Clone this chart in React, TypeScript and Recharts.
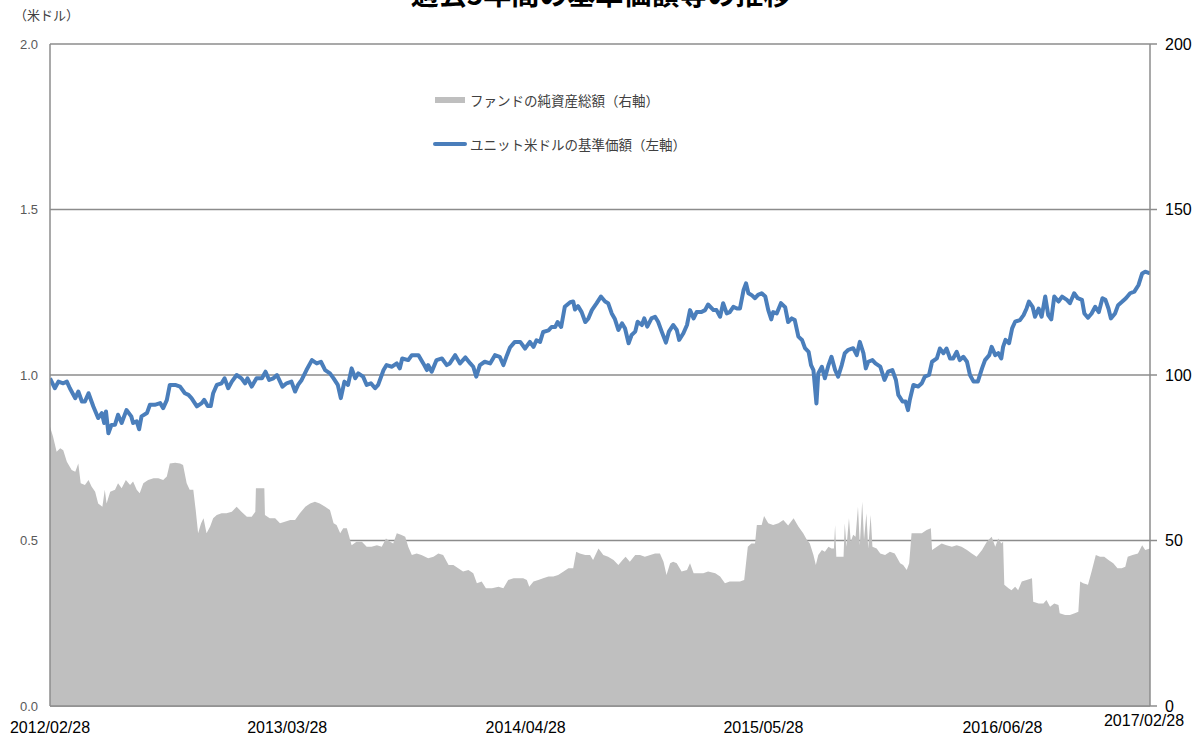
import React from 'react';
import { ComposedChart, Line, Area, XAxis, YAxis, CartesianGrid, Legend } from 'recharts';

const TITLE = '過去5年間の基準価額等の推移';
const UNIT_LABEL = '（米ドル）';
const AREA_NAME = 'ファンドの純資産総額（右軸）';
const LINE_NAME = 'ユニット米ドルの基準価額（左軸）';

// x positions are days since 2012/02/28
const tickDays = [0, 394, 790, 1185, 1582, 1827];
const tickLabels = ['2012/02/28', '2013/03/28', '2014/04/28', '2015/05/28', '2016/06/28', '2017/02/28'];
const leftTicks = [0, 0.5, 1, 1.5, 2];
const rightTicks = [0, 50, 100, 150, 200];

const navDays = [
  0, 8, 14, 22, 28, 33, 42, 47, 53, 58, 64, 72, 80, 86, 90, 93, 97, 102, 108, 113, 119, 127, 135, 138, 144, 148, 152,
  161, 166, 174, 183, 188, 194, 199, 208, 216, 224, 230, 235, 244, 252, 256, 262, 267, 271, 277, 285, 290, 296, 302,
  310, 318, 324, 328, 335, 343, 352, 358, 364, 371, 377, 386, 393, 401, 407, 412, 418, 426, 435, 443, 450, 457, 465,
  471, 478, 483, 489, 495, 501, 507, 512, 520, 526, 533, 540, 545, 554, 559, 568, 576, 581, 585, 595, 601, 612, 620,
  626, 628, 634, 642, 651, 659, 664, 673, 681, 690, 698, 703, 708, 714, 722, 731, 739, 747, 753, 759, 764, 772, 781,
  789, 797, 803, 808, 814, 819, 828, 833, 839, 843, 849, 855, 864, 869, 872, 877, 883, 889, 894, 900, 908, 915, 922,
  927, 933, 938, 944, 950, 955, 961, 966, 972, 976, 983, 987, 992, 999, 1005, 1010, 1016, 1023, 1028, 1035, 1041,
  1045, 1052, 1058, 1063, 1069, 1074, 1082, 1088, 1093, 1102, 1107, 1113, 1118, 1124, 1129, 1135, 1141, 1146, 1152,
  1156, 1160, 1165, 1171, 1176, 1182, 1188, 1193, 1198, 1201, 1207, 1214, 1221, 1226, 1232, 1237, 1243, 1249, 1254,
  1260, 1264, 1268, 1273, 1276, 1282, 1287, 1293, 1298, 1304, 1309, 1315, 1320, 1326, 1334, 1340, 1345, 1351, 1355,
  1359, 1366, 1371, 1379, 1386, 1392, 1399, 1405, 1409, 1416, 1421, 1425, 1428, 1434, 1442, 1448, 1453, 1460, 1465,
  1473, 1478, 1484, 1489, 1495, 1500, 1506, 1511, 1517, 1523, 1528, 1534, 1541, 1548, 1553, 1560, 1564, 1570, 1575,
  1580, 1583, 1587, 1593, 1598, 1603, 1611, 1617, 1622, 1626, 1632, 1636, 1642, 1647, 1653, 1658, 1663, 1668, 1675,
  1681, 1689, 1694, 1701, 1707, 1714, 1718, 1724, 1730, 1736, 1742, 1748, 1753, 1758, 1762, 1769, 1774, 1781, 1787,
  1794, 1801, 1808, 1814, 1819, 1827,
];
const navValues = [
  0.99, 0.96, 0.98, 0.975, 0.98, 0.96, 0.93, 0.95, 0.92, 0.92, 0.945, 0.905, 0.87, 0.885, 0.855, 0.89, 0.824, 0.849,
  0.85, 0.88, 0.855, 0.894, 0.875, 0.855, 0.86, 0.836, 0.875, 0.885, 0.91, 0.91, 0.915, 0.9, 0.924, 0.97, 0.97, 0.965,
  0.945, 0.94, 0.93, 0.905, 0.915, 0.925, 0.906, 0.906, 0.945, 0.97, 0.975, 0.99, 0.96, 0.98, 1.0, 0.99, 0.975, 0.99,
  0.965, 0.99, 0.99, 1.01, 0.985, 0.99, 1.0, 0.965, 0.975, 0.98, 0.95, 0.97, 0.985, 1.015, 1.045, 1.035, 1.04, 1.015,
  1.005, 0.99, 0.97, 0.93, 0.98, 0.97, 1.02, 0.99, 1.005, 0.995, 0.97, 0.975, 0.96, 0.97, 1.015, 1.03, 1.025, 1.035,
  1.02, 1.05, 1.045, 1.06, 1.06, 1.035, 1.015, 1.03, 1.01, 1.045, 1.05, 1.03, 1.035, 1.06, 1.035, 1.053, 1.035, 1.025,
  0.995, 1.03, 1.04, 1.035, 1.06, 1.055, 1.03, 1.06, 1.083, 1.1, 1.1, 1.08, 1.1, 1.085, 1.105, 1.1, 1.13, 1.135, 1.145,
  1.145, 1.16, 1.145, 1.206, 1.22, 1.222, 1.198, 1.208, 1.19, 1.16, 1.17, 1.196, 1.217, 1.237, 1.222, 1.217, 1.186,
  1.17, 1.136, 1.156, 1.141, 1.096, 1.121, 1.131, 1.161, 1.151, 1.171, 1.146, 1.171, 1.176, 1.161, 1.131, 1.098, 1.131,
  1.151, 1.136, 1.106, 1.126, 1.151, 1.196, 1.171, 1.19, 1.19, 1.196, 1.213, 1.196, 1.196, 1.176, 1.217, 1.186, 1.19,
  1.206, 1.201, 1.201, 1.257, 1.277, 1.247, 1.242, 1.232, 1.242, 1.247, 1.237, 1.196, 1.168, 1.19, 1.186, 1.217, 1.205,
  1.16, 1.171, 1.166, 1.116, 1.106, 1.081, 1.07, 1.03, 1.015, 0.914, 1.005, 1.025, 0.99, 1.03, 1.055, 1.015, 0.995,
  1.03, 1.066, 1.076, 1.081, 1.06, 1.1, 1.066, 1.02, 1.04, 1.045, 1.035, 1.025, 0.985, 1.01, 1.015, 0.985, 0.94, 0.92,
  0.92, 0.894, 0.924, 0.97, 0.965, 0.975, 0.995, 1.0, 1.04, 1.05, 1.08, 1.066, 1.08, 1.05, 1.05, 1.07, 1.045, 1.055,
  1.04, 1.0, 0.98, 0.98, 1.02, 1.045, 1.06, 1.085, 1.06, 1.066, 1.05, 1.085, 1.106, 1.096, 1.141, 1.161, 1.166, 1.181,
  1.201, 1.222, 1.206, 1.176, 1.201, 1.176, 1.237, 1.181, 1.168, 1.237, 1.222, 1.237, 1.227, 1.217, 1.247, 1.232,
  1.227, 1.186, 1.173, 1.186, 1.206, 1.19, 1.232, 1.227, 1.201, 1.171, 1.186, 1.211, 1.222, 1.232, 1.247, 1.252,
  1.272, 1.307, 1.312, 1.307,
];

const aumDays = [
  0, 5, 11, 17, 22, 28, 36, 42, 47, 51, 58, 64, 69, 75, 80, 87, 91, 94, 100, 108, 113, 119, 126, 133, 138, 144, 149,
  155, 163, 172, 180, 188, 194, 199, 208, 216, 221, 227, 232, 238, 242, 246, 251, 255, 260, 266, 271, 277, 285, 293,
  302, 310, 318, 327, 335, 341, 342, 356, 357, 365, 374, 382, 390, 399, 407, 415, 424, 432, 440, 448, 457, 465, 471,
  476, 482, 487, 493, 497, 501, 509, 518, 526, 534, 543, 551, 558, 565, 570, 576, 583, 590, 595, 601, 609, 617, 628,
  637, 645, 653, 662, 670, 678, 686, 695, 703, 709, 717, 724, 734, 745, 753, 761, 770, 778, 786, 792, 796, 803, 811,
  819, 828, 836, 844, 853, 861, 869, 874, 880, 889, 897, 902, 911, 919, 927, 936, 944, 951, 956, 963, 972, 980, 988,
  997, 1005, 1013, 1019, 1024, 1030, 1035, 1041, 1049, 1058, 1063, 1069, 1077, 1085, 1093, 1105, 1113, 1121, 1129,
  1138, 1146, 1153, 1159, 1165, 1171, 1174, 1182, 1186, 1193, 1201, 1210, 1218, 1226, 1235, 1243, 1251, 1257, 1262,
  1268, 1272, 1276, 1282, 1287, 1293, 1298, 1302, 1304, 1306, 1315, 1318, 1320, 1323, 1327, 1330, 1334, 1338, 1342,
  1345, 1349, 1352, 1356, 1359, 1363, 1366, 1373, 1379, 1387, 1395, 1403, 1412, 1417, 1423, 1427, 1431, 1440, 1448,
  1456, 1463, 1465, 1473, 1481, 1489, 1498, 1506, 1514, 1523, 1531, 1539, 1548, 1556, 1564, 1570, 1575, 1580, 1583,
  1585, 1592, 1597, 1603, 1608, 1614, 1622, 1631, 1633, 1642, 1650, 1655, 1661, 1668, 1675, 1677, 1686, 1694, 1702,
  1708, 1711, 1716, 1724, 1730, 1737, 1744, 1751, 1758, 1766, 1773, 1780, 1786, 1790, 1798, 1807, 1814, 1819, 1827,
];
const aumValues = [
  84.4, 81.4, 76.8, 77.9, 77.3, 73.8, 71.3, 70.8, 73.3, 67.3, 66.8, 68.3, 66.3, 64.7, 61.2, 60.2, 65.3, 61.2, 64.7,
  65.3, 67.3, 65.8, 68.3, 66.8, 67.8, 65.3, 64.3, 67.3, 68.3, 68.8, 68.8, 68.3, 69.3, 73.3, 73.5, 73.3, 72.8, 67.3,
  65.3, 65.3, 59.2, 52.2, 55.2, 56.7, 52.2, 54.2, 56.7, 57.7, 58.2, 58.2, 58.7, 60.2, 58.7, 57.2, 57.2, 58.7, 65.8,
  65.8, 57.7, 56.7, 56.7, 55.2, 55.7, 56.2, 56.2, 58.2, 60.2, 61.2, 61.7, 61.2, 60.2, 59.2, 55.2, 54.7, 52.2, 53.7,
  53.7, 51.1, 48.6, 49.6, 49.6, 48.1, 48.1, 48.6, 48.1, 50.6, 49.6, 49.1, 52.2, 51.7, 51.1, 48.1, 45.6, 46.1, 45.6,
  44.6, 45.1, 46.1, 45.6, 42.6, 42.6, 41.6, 40.6, 41.1, 40.1, 37.1, 37.6, 35.6, 35.6, 36.0, 35.6, 38.1, 38.6, 38.6,
  38.6, 38.1, 36.0, 37.6, 38.1, 38.6, 39.1, 39.1, 39.6, 40.6, 41.6, 41.6, 46.6, 46.1, 45.6, 45.6, 44.1, 47.6, 45.6,
  45.1, 44.1, 42.6, 44.1, 45.1, 43.6, 45.6, 45.6, 45.1, 45.6, 46.1, 46.1, 43.6, 39.6, 43.1, 43.6, 43.1, 40.6, 41.1,
  43.1, 40.1, 40.1, 40.1, 40.6, 40.1, 39.1, 37.1, 37.6, 37.6, 37.6, 38.1, 48.1, 49.1, 49.1, 54.7, 54.7, 57.4, 55.2,
  54.7, 55.2, 56.2, 54.5, 56.7, 54.2, 52.2, 50.2, 49.1, 45.6, 42.6, 45.6, 47.1, 46.6, 48.1, 47.6, 47.6, 54.7, 45.1,
  45.1, 45.1, 55.2, 48.1, 56.7, 49.6, 51.7, 51.1, 60.2, 48.6, 61.7, 50.2, 58.2, 47.6, 57.7, 48.1, 47.6, 46.1, 45.6,
  46.6, 46.1, 43.1, 42.6, 41.1, 43.1, 52.2, 52.2, 52.2, 53.2, 53.7, 47.1, 48.1, 49.1, 48.6, 48.1, 48.6, 48.1, 47.1,
  46.1, 45.1, 47.1, 49.6, 51.1, 48.1, 50.6, 49.1, 49.6, 36.6, 35.6, 35.0, 36.0, 35.0, 37.6, 38.1, 38.6, 31.5, 31.0,
  31.0, 32.0, 30.0, 31.0, 30.5, 28.0, 27.5, 27.5, 28.0, 28.5, 37.6, 37.1, 36.6, 40.6, 45.6, 45.1, 45.1, 44.1, 43.1,
  41.6, 41.6, 42.1, 45.1, 45.6, 46.1, 48.6, 47.1, 47.6,
];

const navData = navDays.map((d, i) => ({ day: d, nav: navValues[i] }));
const aumData = aumDays.map((d, i) => ({ day: d, aum: aumValues[i] }));

const LINE_COLOR = '#4A7EBB';
const AREA_COLOR = '#BFBFBF';
const AXIS_COLOR = '#8C8C8C';
const LATIN = "'Liberation Sans', Arial, sans-serif";
const CJK = "'Noto Sans CJK JP', 'Noto Sans', sans-serif";

const XTick = (props: any) => {
  const { x, y, payload } = props;
  const idx = tickDays.indexOf(payload.value);
  const isLast = idx === tickDays.length - 1;
  return (
    <text
      x={isLast ? x - 6 : x}
      y={isLast ? y - 7 : y}
      dy="0.71em"
      textAnchor="middle"
      fontSize={16}
      fontFamily={LATIN}
      fill="#000"
    >
      {idx >= 0 ? tickLabels[idx] : ''}
    </text>
  );
};

const renderLegend = () => {
  const items = [
    { label: AREA_NAME, kind: 'rect' },
    { label: LINE_NAME, kind: 'line' },
  ];
  return (
    <div style={{ fontFamily: CJK, fontSize: 13.5, color: '#404040', whiteSpace: 'nowrap' }}>
      {items.map((it, i) => (
        <div
          key={i}
          style={{ display: 'flex', alignItems: 'center', height: 24, marginBottom: i === 0 ? 20 : 0 }}
        >
          {it.kind === 'rect' ? (
            <span style={{ display: 'inline-block', width: 30, height: 6, background: AREA_COLOR, marginLeft: 2, marginRight: 5 }} />
          ) : (
            <span style={{ display: 'inline-block', width: 34, height: 4, background: LINE_COLOR, borderRadius: 2, marginRight: 3 }} />
          )}
          <span>{it.label}</span>
        </div>
      ))}
    </div>
  );
};

export default function App() {
  return (
    <div style={{ position: 'absolute', left: 0, top: 0, width: 1200, height: 737, background: '#fff', overflow: 'hidden' }}>
      <ComposedChart width={1200} height={737} margin={{ top: 44, right: 0, bottom: 0, left: 0 }}>
        <CartesianGrid yAxisId="left" vertical={false} horizontal stroke={AXIS_COLOR} strokeWidth={1.5} />
        <XAxis
          xAxisId={0}
          type="number"
          dataKey="day"
          domain={[0, 1827]}
          ticks={tickDays}
          interval={0}
          height={31}
          tickLine={false}
          tickSize={0}
          tickMargin={16}
          axisLine={{ stroke: AXIS_COLOR, strokeWidth: 1.5 }}
          tick={<XTick />}
          allowDataOverflow
        />
        <YAxis
          yAxisId="left"
          orientation="left"
          width={50}
          domain={[0, 2]}
          ticks={leftTicks}
          interval={0}
          tickFormatter={(v: number) => v.toFixed(1)}
          tickLine={false}
          tickSize={0}
          tickMargin={12}
          axisLine={{ stroke: AXIS_COLOR, strokeWidth: 1.5 }}
          tick={{ fontSize: 13, fill: '#595959', fontFamily: LATIN }}
        />
        <YAxis
          yAxisId="right"
          orientation="right"
          width={50}
          domain={[0, 200]}
          ticks={rightTicks}
          interval={0}
          tickLine={{ stroke: AXIS_COLOR, strokeWidth: 1.5 }}
          tickSize={7}
          tickMargin={8}
          axisLine={{ stroke: AXIS_COLOR, strokeWidth: 1.5 }}
          tick={{ fontSize: 16, fill: '#000', fontFamily: LATIN }}
        />
        <Legend
          layout="vertical"
          align="center"
          verticalAlign="middle"
          content={renderLegend}
          wrapperStyle={{ left: 433, top: 88, width: 320 }}
        />
        <Area
          yAxisId="right"
          data={aumData}
          dataKey="aum"
          name={AREA_NAME}
          type="linear"
          fill={AREA_COLOR}
          fillOpacity={1}
          stroke="none"
          legendType="rect"
          dot={false}
          activeDot={false}
          isAnimationActive={false}
        />
        <Line
          yAxisId="left"
          data={navData}
          dataKey="nav"
          name={LINE_NAME}
          type="linear"
          stroke={LINE_COLOR}
          strokeWidth={4}
          strokeLinejoin="round"
          dot={false}
          activeDot={false}
          isAnimationActive={false}
        />
      </ComposedChart>
      <svg width={1200} height={737} style={{ position: 'absolute', left: 0, top: 0, pointerEvents: 'none' }}>
        <text x={601} y={5} textAnchor="middle" fontSize={28} fontWeight="bold" fontFamily={CJK} fill="#000">
          {TITLE}
        </text>
        <text x={14} y={20} fontSize={13} fontFamily={CJK} fill="#404040">
          {UNIT_LABEL}
        </text>
      </svg>
    </div>
  );
}
